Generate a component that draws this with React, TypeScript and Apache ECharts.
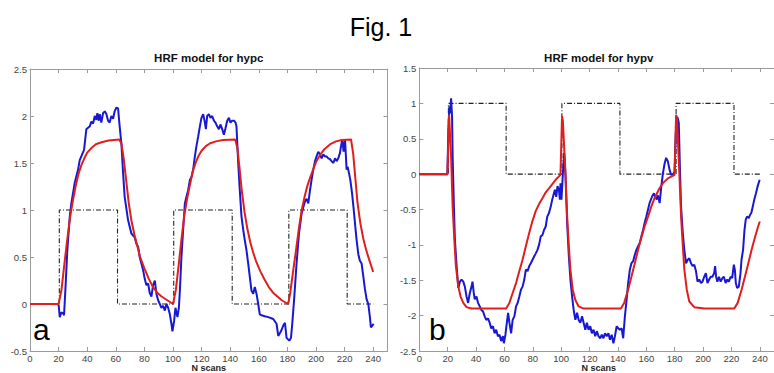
import React, { useEffect, useRef } from "react";
import * as echarts from "echarts";

// Stimulus blocks (scan numbers)
const stimOnsets = [20.5, 100.5, 181];
const stimOffsets = [61.2, 141.4, 221.8];
const scanEnd = 240;

// Panel a: HRF model for hypc
const hypcMeasured: [number, number][] = [
  [0, 0], [19.5, 0], [20.1, -0.02], [20.8, -0.14], [21.9, -0.09], [23.1, -0.1], [23.8, -0.12], [24.7, 0.14],
  [26.1, 0.57], [27.8, 0.93], [28.9, 1.07], [31.3, 1.29], [33.6, 1.43], [34.8, 1.53], [36.4, 1.59], [37.8, 1.64],
  [39.4, 1.86], [41.8, 1.89], [42.9, 1.94], [44.1, 1.92], [45.3, 2.0], [46.4, 1.96], [47.1, 2.03], [48.1, 1.95],
  [48.8, 2.02], [49.9, 1.93], [51.1, 2.03], [52.3, 2.05], [53.4, 2.02], [54.6, 1.95], [55.7, 1.93], [56.9, 2.0],
  [58.1, 1.97], [59.2, 2.05], [60.4, 2.09], [61.6, 2.08], [62.7, 1.89], [63.9, 1.71], [65.1, 1.39], [66.2, 1.14],
  [68.6, 0.89], [70.9, 0.75], [73.2, 0.71], [74.4, 0.64], [75.6, 0.61], [76.7, 0.5], [77.9, 0.43], [79.1, 0.36],
  [80.2, 0.27], [81.4, 0.2], [82.6, 0.22], [83.7, 0.12], [84.9, 0.08], [86.1, 0.2], [87.3, 0.25], [88.4, 0.11],
  [89.6, 0.04], [90.8, 0.0], [91.9, -0.04], [93.1, -0.02], [94.3, -0.07], [95.4, 0.0], [96.6, -0.04], [97.8, -0.11],
  [98.9, -0.21], [99.6, -0.29], [100.8, -0.18], [101.7, -0.04], [103.1, -0.14], [104.1, -0.04], [104.8, 0.14],
  [105.9, 0.5], [107.1, 0.79], [108.3, 1.07], [109.4, 1.14], [110.6, 1.21], [111.8, 1.32], [112.9, 1.35],
  [114.1, 1.43], [115.3, 1.57], [116.4, 1.68], [117.6, 1.78], [118.8, 1.89], [119.9, 1.98], [121.1, 2.02],
  [122.3, 1.93], [123.0, 1.86], [123.9, 2.0], [125.1, 2.02], [126.2, 1.98], [127.4, 2.0], [128.6, 1.95],
  [129.7, 1.93], [130.9, 1.89], [132.1, 1.86], [133.2, 1.91], [134.4, 1.86], [135.6, 1.8], [136.7, 1.87],
  [137.9, 1.95], [139.1, 1.98], [140.2, 1.93], [141.4, 1.95], [142.8, 1.95], [143.7, 1.93], [144.4, 1.89],
  [145.6, 1.5], [146.7, 1.21], [147.9, 0.93], [149.1, 0.79], [150.2, 0.68], [151.4, 0.57], [152.6, 0.43],
  [153.7, 0.29], [154.9, 0.14], [156.1, 0.11], [157.2, 0.18], [158.4, 0.11], [159.6, 0.0], [160.7, -0.11],
  [161.9, -0.12], [164.2, -0.13], [166.6, -0.14], [170.1, -0.16], [172.4, -0.21], [173.6, -0.34], [175.5, -0.29],
  [177.1, -0.23], [178.3, -0.2], [179.4, -0.36], [181.3, -0.39], [182.5, -0.36], [183.4, -0.21], [184.8, 0.07],
  [186.4, 0.43], [188.1, 0.75], [189.9, 0.96], [191.1, 1.03], [192.3, 1.09], [193.4, 1.12], [194.6, 1.07],
  [195.8, 1.21], [196.9, 1.32], [198.1, 1.43], [199.3, 1.52], [200.4, 1.57], [201.6, 1.62], [202.8, 1.59],
  [203.9, 1.55], [205.1, 1.59], [206.3, 1.57], [207.4, 1.57], [208.6, 1.55], [209.8, 1.54], [210.9, 1.52],
  [212.1, 1.5], [213.3, 1.55], [214.4, 1.52], [215.6, 1.55], [216.8, 1.61], [217.5, 1.68], [218.4, 1.75],
  [219.3, 1.62], [220.3, 1.75], [221.4, 1.43], [222.1, 1.46], [223.1, 1.39], [224.0, 1.32], [225.2, 1.18],
  [226.4, 1.0], [227.5, 0.82], [228.4, 0.68], [229.6, 0.53], [230.7, 0.46], [231.9, 0.43], [233.1, 0.29],
  [234.2, 0.16], [235.4, 0.05], [236.6, 0.0], [237.7, -0.14], [238.4, -0.25], [239.4, -0.23], [240.3, -0.21],
];

const hypcModel: [number, number][] = [
  [0, 0], [20, 0], [22, 0.15], [24, 0.42], [26, 0.68], [28, 0.92], [30, 1.1], [32, 1.26], [34, 1.39],
  [36, 1.48], [38, 1.55], [40, 1.61], [43, 1.66], [46, 1.7], [50, 1.72], [55, 1.74], [62.5, 1.75],
  [64, 1.7], [65.5, 1.55], [67, 1.35], [69, 1.08], [71, 0.88], [73, 0.74], [75, 0.62], [77, 0.5],
  [80, 0.38], [83, 0.27], [86, 0.18], [89, 0.12], [92, 0.08], [96, 0.04], [100, 0],
  [102, 0.15], [104, 0.42], [106, 0.7], [108, 0.95], [110, 1.13], [112, 1.28], [114, 1.42], [116, 1.51],
  [118, 1.58], [120, 1.63], [123, 1.68], [126, 1.71], [130, 1.73], [135, 1.745], [143.5, 1.75],
  [145, 1.66], [146.5, 1.45], [148, 1.22], [150, 0.98], [152, 0.8], [154, 0.66], [156, 0.55], [158, 0.46],
  [161, 0.35], [164, 0.26], [167, 0.18], [170, 0.12], [173, 0.08], [176, 0.04], [180.5, 0],
  [182, 0.12], [184, 0.35], [186, 0.57], [188, 0.8], [190, 1.0], [192, 1.14], [194, 1.26], [196, 1.35],
  [198, 1.43], [200, 1.51], [203, 1.59], [206, 1.65], [210, 1.7], [214, 1.73], [218, 1.745], [224.5, 1.75],
  [226, 1.6], [227.5, 1.34], [229, 1.08], [231, 0.86], [233, 0.7], [235, 0.58], [237, 0.48], [240, 0.34],
];

// Panel b: HRF model for hypv
const hypvMeasured: [number, number][] = [
  [0, 0], [19.8, 0], [20.5, 0.63], [21.2, 0.96], [21.7, 0.86], [22.4, 1.07], [23.1, 0.81], [23.5, 0.25],
  [24.4, -0.46], [25.1, -0.93], [26.3, -1.3], [27.5, -1.61], [28.6, -1.52], [29.8, -1.49], [31.0, -1.52],
  [32.1, -1.59], [33.3, -1.73], [34.4, -1.82], [35.6, -1.68], [36.8, -1.59], [37.5, -1.52], [38.4, -1.68],
  [39.1, -1.77], [40.3, -1.73], [41.4, -1.82], [42.6, -1.87], [43.7, -1.92], [44.9, -1.94], [46.1, -2.01],
  [47.2, -2.06], [48.4, -2.04], [49.6, -2.1], [50.7, -2.18], [51.9, -2.15], [53.1, -2.25], [54.2, -2.2],
  [55.4, -2.29], [56.5, -2.27], [57.7, -2.36], [58.9, -2.29], [59.6, -2.39], [60.7, -2.27], [61.7, -2.1],
  [62.6, -1.96], [63.5, -2.1], [64.7, -2.25], [65.8, -2.06], [67.0, -2.01], [68.2, -1.87], [69.3, -1.82],
  [70.5, -1.73], [71.7, -1.63], [72.8, -1.59], [74.0, -1.49], [75.1, -1.35], [76.3, -1.37], [77.5, -1.3],
  [78.6, -1.26], [79.8, -1.21], [81.0, -1.16], [82.1, -1.12], [83.3, -1.07], [84.4, -1.0], [85.6, -0.88],
  [86.8, -0.86], [87.9, -0.79], [89.1, -0.74], [90.2, -0.6], [91.4, -0.55], [92.6, -0.46], [93.7, -0.36],
  [94.9, -0.27], [95.6, -0.22], [96.5, -0.32], [97.4, -0.17], [98.4, -0.22], [99.1, -0.36], [99.5, -0.13],
  [100.2, -0.36], [101.2, 0.01], [102.1, 0.3], [103.0, 0.01], [104.2, -0.69], [105.4, -1.16], [106.5, -1.49],
  [107.7, -1.73], [108.8, -1.92], [110.0, -2.06], [111.2, -1.96], [112.3, -2.06], [113.5, -2.1], [114.7, -2.01],
  [115.8, -2.1], [117.0, -2.2], [118.1, -2.1], [119.3, -2.2], [120.5, -2.15], [121.6, -2.25], [122.8, -2.2],
  [124.0, -2.29], [125.1, -2.22], [126.3, -2.29], [127.5, -2.32], [128.6, -2.27], [129.8, -2.32], [130.9, -2.25],
  [132.1, -2.29], [133.3, -2.25], [134.4, -2.34], [135.6, -2.27], [136.8, -2.39], [137.9, -2.29], [139.1, -2.15],
  [140.2, -2.18], [141.4, -2.2], [142.6, -2.18], [143.7, -2.32], [144.9, -2.01], [146.1, -1.78], [147.2, -1.54],
  [148.4, -1.35], [149.5, -1.26], [150.7, -1.23], [151.9, -1.14], [153.0, -1.07], [154.2, -1.02], [155.4, -0.97],
  [156.5, -0.88], [157.7, -0.79], [158.8, -0.69], [160.0, -0.6], [161.2, -0.5], [162.3, -0.41], [164.0, -0.32],
  [165.4, -0.27], [166.3, -0.32], [167.4, -0.36], [168.2, -0.3], [169.4, -0.41], [170.6, -0.17], [171.7, 0.01],
  [172.9, 0.15], [174.0, 0.23], [175.2, 0.18], [176.4, 0.06], [177.5, -0.01], [178.7, 0.0], [179.9, 0.03],
  [180.6, 0.48], [181.3, 0.81], [182.2, 0.79], [182.9, 0.72], [183.8, 0.01], [184.5, -0.46], [185.7, -0.83],
  [186.8, -1.07], [188.0, -1.26], [189.2, -1.21], [190.3, -1.19], [191.5, -1.26], [192.6, -1.3], [193.8, -1.28],
  [195.0, -1.37], [196.1, -1.52], [197.3, -1.49], [198.5, -1.54], [199.6, -1.52], [200.8, -1.45], [202.0, -1.4],
  [203.1, -1.54], [204.3, -1.49], [205.4, -1.45], [206.6, -1.45], [207.8, -1.4], [208.5, -1.3], [209.2, -1.45],
  [210.1, -1.52], [211.2, -1.45], [212.4, -1.52], [213.6, -1.47], [214.7, -1.45], [215.9, -1.54], [217.1, -1.49],
  [218.2, -1.52], [219.4, -1.45], [220.5, -1.47], [221.7, -1.28], [222.4, -1.35], [223.1, -1.54], [224.0, -1.61],
  [225.2, -1.59], [226.4, -1.4], [227.1, -1.21], [228.2, -1.07], [229.2, -0.79], [230.1, -0.64], [231.0, -0.6],
  [232.2, -0.62], [233.3, -0.57], [234.0, -0.55], [235.0, -0.46], [236.1, -0.36], [237.3, -0.27], [238.5, -0.17],
  [239.9, -0.08],
];

const hypvModel: [number, number][] = [
  [0, 0], [19.8, 0], [21.0, 0.84], [22.4, 0.25], [23.5, -0.46], [24.7, -0.93], [25.8, -1.3], [27.5, -1.59],
  [29.1, -1.73], [31.0, -1.82], [33.3, -1.88], [36.8, -1.9], [61.2, -1.9], [63.5, -1.82], [65.8, -1.68],
  [68.2, -1.54], [70.5, -1.37], [72.8, -1.21], [75.1, -1.02], [77.5, -0.83], [79.8, -0.66], [82.1, -0.52],
  [84.5, -0.42], [86.8, -0.34], [89.0, -0.26], [91.4, -0.2], [96.1, -0.08], [99.5, -0.01], [100.6, 0.82],
  [101.2, 0.75], [103.0, 0.01], [104.2, -0.6], [105.4, -1.02], [106.5, -1.35], [108.1, -1.63], [110.0, -1.78],
  [112.3, -1.87], [115.8, -1.9], [142.1, -1.9], [144.4, -1.82], [147.2, -1.63], [149.5, -1.45], [151.9, -1.26],
  [154.2, -1.07], [156.5, -0.9], [158.8, -0.74], [161.2, -0.6], [163.5, -0.46], [165.8, -0.34], [169.3, -0.2],
  [172.0, -0.12], [175.2, -0.06], [179.9, -0.01], [181.0, 0.84], [181.6, 0.78], [183.3, 0.01], [184.5, -0.6],
  [185.7, -1.0], [186.8, -1.35], [188.5, -1.63], [190.3, -1.8], [193.8, -1.88], [200.8, -1.9], [222.0, -1.9],
  [224.4, -1.82], [227.2, -1.63], [229.5, -1.45], [231.9, -1.26], [234.2, -1.07], [236.5, -0.9], [238.8, -0.74],
  [240.0, -0.67],
];

function stimulusPoints(): [number, number][] {
  const pts: [number, number][] = [[0, 0]];
  stimOnsets.forEach((on, i) => {
    pts.push([on, 0], [on, 1], [stimOffsets[i], 1], [stimOffsets[i], 0]);
  });
  pts.push([scanEnd, 0]);
  return pts;
}

const FONT = "'Liberation Sans', Arial, Helvetica, sans-serif";
const AX = "#9a9a9a";

function xAxes(gridIndex: number) {
  const base = {
    type: "value",
    gridIndex,
    min: 0,
    max: 250,
    interval: 20,
    axisLine: { show: true, onZero: false, lineStyle: { color: AX, width: 1 } },
    axisTick: { show: true, inside: true, length: 4, lineStyle: { color: AX } },
    splitLine: { show: false },
  };
  return [
    {
      ...base,
      position: "bottom",
      axisLabel: { show: true, fontSize: 9.5, color: "#444", fontFamily: FONT, margin: 2, showMaxLabel: false },
    },
    { ...base, position: "top", axisLabel: { show: false } },
  ];
}

function yAxes(gridIndex: number, min: number, max: number) {
  const base = {
    type: "value",
    gridIndex,
    min,
    max,
    interval: 0.5,
    axisLine: { show: true, onZero: false, lineStyle: { color: AX, width: 1 } },
    axisTick: { show: true, inside: true, length: 4, lineStyle: { color: AX } },
    splitLine: { show: false },
  };
  return [
    {
      ...base,
      position: "left",
      axisLabel: { show: true, fontSize: 9.5, color: "#444", fontFamily: FONT, margin: 3 },
    },
    { ...base, position: "right", axisLabel: { show: false } },
  ];
}

export default function App() {
  const ref = useRef<HTMLDivElement>(null);
  useEffect(() => {
    if (!ref.current) return;
    const chart = echarts.init(ref.current, undefined, { renderer: "svg" });
    const stim = stimulusPoints();
    const lineBase = { type: "line", showSymbol: false, symbol: "none", smooth: false };
    const option: any = {
      animation: false,
      backgroundColor: "#ffffff",
      grid: [
        { left: 30, top: 69, width: 357.5, height: 282 },
        { left: 419.3, top: 68, width: 358, height: 283 },
      ],
      xAxis: [...xAxes(0), ...xAxes(1)],
      yAxis: [...yAxes(0, -0.5, 2.5), ...yAxes(1, -2.5, 1.5)],
      series: [
        { ...lineBase, xAxisIndex: 0, yAxisIndex: 0, data: stim, lineStyle: { color: "#222", width: 1.1, type: [5, 2, 1, 2] } },
        { ...lineBase, xAxisIndex: 0, yAxisIndex: 0, data: hypcMeasured, lineStyle: { color: "#1818d2", width: 2 } },
        { ...lineBase, xAxisIndex: 0, yAxisIndex: 0, data: hypcModel, lineStyle: { color: "#e01e1e", width: 2 } },
        { ...lineBase, xAxisIndex: 2, yAxisIndex: 2, data: stim, lineStyle: { color: "#222", width: 1.1, type: [5, 2, 1, 2] } },
        { ...lineBase, xAxisIndex: 2, yAxisIndex: 2, data: hypvMeasured, lineStyle: { color: "#1818d2", width: 2 } },
        { ...lineBase, xAxisIndex: 2, yAxisIndex: 2, data: hypvModel, lineStyle: { color: "#e01e1e", width: 2 } },
      ],
      graphic: [
        { type: "text", x: 381, y: 26.5, style: { text: "Fig. 1", fontSize: 25, fontFamily: FONT, fill: "#000", align: "center", verticalAlign: "middle" } },
        { type: "text", x: 208.7, y: 57.5, style: { text: "HRF model for hypc", fontSize: 11.5, fontWeight: "bold", fontFamily: FONT, fill: "#111", align: "center", verticalAlign: "middle" } },
        { type: "text", x: 598.7, y: 57.5, style: { text: "HRF model for hypv", fontSize: 11.5, fontWeight: "bold", fontFamily: FONT, fill: "#111", align: "center", verticalAlign: "middle" } },
        { type: "text", x: 208.7, y: 368.4, style: { text: "N scans", fontSize: 9, fontWeight: "bold", fontFamily: FONT, fill: "#222", align: "center", verticalAlign: "middle" } },
        { type: "text", x: 598.7, y: 368.4, style: { text: "N scans", fontSize: 9, fontWeight: "bold", fontFamily: FONT, fill: "#222", align: "center", verticalAlign: "middle" } },
        { type: "text", x: 33, y: 329.5, style: { text: "a", fontSize: 30, fontFamily: FONT, fill: "#000", align: "left", verticalAlign: "middle" } },
        { type: "text", x: 429, y: 329.5, style: { text: "b", fontSize: 30, fontFamily: FONT, fill: "#000", align: "left", verticalAlign: "middle" } },
      ],
    };
    chart.setOption(option);
    return () => chart.dispose();
  }, []);
  return (
    <div
      ref={ref}
      style={{ position: "fixed", left: 0, top: 0, width: 774, height: 373, background: "#fff" }}
    />
  );
}
